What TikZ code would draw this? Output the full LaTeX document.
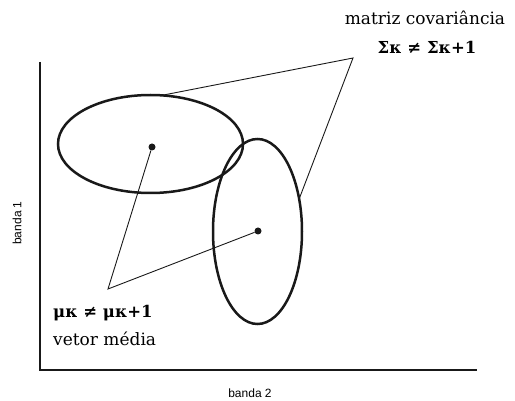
\documentclass[tikz,border=0pt]{standalone}
\usepackage{fontspec}
\usepackage{tikz}
\usetikzlibrary{shapes.geometric}
\setmainfont{DejaVu Serif}
\newfontfamily\axisfont{Liberation Sans}
\definecolor{inkline}{RGB}{25,25,25}
\newcommand{\classdot}[3]{%
  \node[fill=inkline,circle,inner sep=0pt,minimum size=7pt] (#1) at (#2,#3) {};
}
\tikzset{
  classell/.style={ellipse,draw=inkline,line width=2.5pt,inner sep=0pt,outer sep=0pt},
  leader/.style={inkline,line width=0.9pt},
  labeltxt/.style={font=\fontsize{17}{20}\selectfont,inner sep=0pt},
  symtxt/.style={font=\bfseries\fontsize{16.5}{20}\selectfont,inner sep=0pt}
}

\begin{document}
\begin{tikzpicture}[x=1pt,y=-1pt]
    \useasboundingbox (0,0) rectangle (515,401);
    % axes
    \draw[inkline,line width=2pt] (40,62) |- (477,370);
    \node[rotate=90,font=\axisfont\fontsize{12}{14}\selectfont] (yl) at (17,223) {banda 1};
    \node[font=\axisfont\fontsize{12}{14}\selectfont] (xl) at (250,393) {banda 2};
    % the two classes
    \node[classell,minimum width=185pt,minimum height=98pt] (ellA) at (150.5,144) {};
    \node[classell,minimum width=89pt,minimum height=185pt] (ellB) at (257.5,231.5) {};
    \classdot{muA}{152}{147}
    \classdot{muB}{258}{231}
    % labels and leaders
    \node[labeltxt] (covname) at (425,18) {matriz covariância};
    \node[symtxt] (covsym) at (427,47) {Σκ ≠ Σκ+1};
    \node[symtxt,anchor=west] (musym) at (53,313) {μκ ≠ μκ+1};
    \node[labeltxt,anchor=west] (muname) at (53,339) {vetor média};
    \coordinate (covtip) at (353,58);
    \coordinate (mutip) at (108,289);
    \draw[leader] (ellA.77) -- (covtip) -- (ellB.38);
    \draw[leader] (muA) -- (mutip) -- (muB);
  \end{tikzpicture}
\end{document}
